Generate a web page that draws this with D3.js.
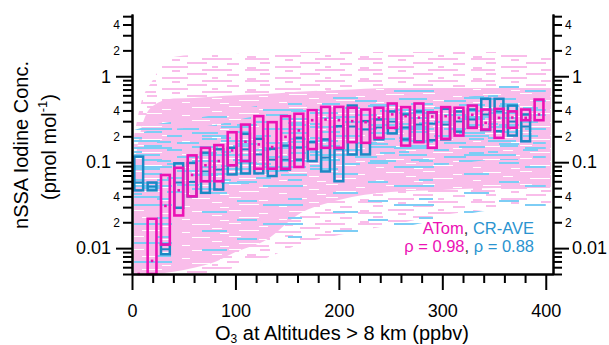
<!DOCTYPE html>
<html>
<head>
<meta charset="utf-8">
<script src="https://cdn.jsdelivr.net/npm/d3@7"></script>
<style>
  body { margin: 0; background: #fff; }
  svg text { font-family: "Liberation Sans", Arial, sans-serif; }
</style>
</head>
<body>
<div class="canvas"></div>
<script>
// O3 bin centres (ppbv), 31 bins over 0-400
const o3Bins = [6.5, 19.4, 32.3, 45.2, 58.1, 71.0, 83.9, 96.8, 109.7, 122.6, 135.5, 148.4, 161.3, 174.2, 187.1,
  200.0, 212.9, 225.8, 238.7, 251.6, 264.5, 277.4, 290.3, 303.2, 316.1, 329.0, 341.9, 354.8, 367.7, 380.6, 393.5]
const binWidth = 12.9

// ATom boxes (pmol/mol)
const atomQ25 = [0.003, 0.004, 0.011, 0.024, 0.040, 0.060, 0.060, 0.092, 0.103, 0.084, 0.084, 0.084, 0.088, 0.142, 0.147, 0.147,
  0.171, 0.168, 0.192, 0.251, 0.156, 0.171, 0.147, 0.187, 0.204, 0.251, 0.24, 0.192, 0.251, 0.308, 0.308]
const atomMed = [0.0035, 0.0071, 0.031, 0.047, 0.071, 0.092, 0.103, 0.137, 0.173, 0.161, 0.15, 0.197, 0.234, 0.308, 0.314, 0.308,
  0.30, 0.292, 0.328, 0.36, 0.343, 0.33, 0.34, 0.343, 0.328, 0.356, 0.287, 0.328, 0.331, 0.328, 0.359]
const atomQ75 = [0.004, 0.022, 0.071, 0.086, 0.120, 0.147, 0.158, 0.223, 0.274, 0.343, 0.292, 0.343, 0.366, 0.403, 0.44, 0.44,
  0.43, 0.41, 0.43, 0.482, 0.437, 0.482, 0.381, 0.437, 0.43, 0.456, 0.41, 0.418, 0.39, 0.41, 0.536]

// CR-AVE boxes
const crQ25 = [0.047, 0.047, 0.0085, 0.0295, 0.040, 0.044, 0.048, 0.072, 0.074, 0.074, 0.069, 0.082, 0.107, 0.103, 0.078, 0.060,
  0.123, 0.123, 0.184, 0.216, 0.184, 0.174, 0.18, 0.184, 0.227, 0.253, 0.236, 0.229, 0.204, 0.175, null]
const crMed = [0.058, 0.052, 0.0097, 0.058, 0.059, 0.078, 0.082, 0.092, 0.141, 0.123, 0.107, 0.107, 0.148, 0.141, 0.113, 0.141,
  0.26, 0.24, 0.253, 0.297, 0.253, 0.274, 0.28, 0.274, 0.297, 0.314, 0.359, 0.389, 0.297, 0.26, null]
const crQ75 = [0.116, 0.058, 0.011, 0.097, 0.098, 0.129, 0.141, 0.147, 0.214, 0.187, 0.143, 0.156, 0.192, 0.171, 0.184, 0.262,
  0.456, 0.30, 0.314, 0.389, 0.359, 0.389, 0.378, 0.418, 0.389, 0.41, 0.546, 0.546, 0.456, 0.359, null]

// envelope of the raw ATom points (background cloud)
const atomCloudX = [2, 8, 20, 40, 60, 80, 100, 130, 160, 200, 250, 300, 350, 405]
const atomDenseLo = [0.005, 0.005, 0.005, 0.0053, 0.0059, 0.0069, 0.009, 0.0125, 0.0243, 0.0363, 0.045, 0.0475, 0.050, 0.050]
const atomDenseHi = [0.09, 0.22, 0.45, 0.55, 0.56, 0.58, 0.60, 0.62, 0.66, 0.69, 0.73, 0.73, 0.73, 0.73]
const atomSparseLo = [0.005, 0.005, 0.005, 0.005, 0.005, 0.0053, 0.0059, 0.0077, 0.0109, 0.0142, 0.0186, 0.0243, 0.0285, 0.033]
const atomSparseHi = [0.2, 0.45, 0.9, 1.67, 1.77, 1.77, 1.82, 1.87, 1.91, 1.91, 1.91, 1.91, 1.91, 1.77]

// envelope of the raw CR-AVE points
const crCloudX = [2, 20, 50, 80, 110, 150, 200, 250, 300, 350, 400]
const crDenseLo = [0.0363, 0.0363, 0.0415, 0.0475, 0.0543, 0.0621, 0.0811, 0.0928, 0.0928, 0.106, 0.106]
const crDenseHi = [0.207, 0.237, 0.25, 0.271, 0.327, 0.405, 0.529, 0.558, 0.558, 0.605, 0.605]
const crSparseLo = [0.0053, 0.0053, 0.0064, 0.0083, 0.0109, 0.0125, 0.0142, 0.0165, 0.022, 0.028, 0.03]
const crSparseHi = [0.237, 0.271, 0.31, 0.354, 0.426, 0.529, 0.656, 0.69, 0.8, 0.9, 0.9]

const xMajor = [0, 100, 200, 300, 400]
const yMajor = [0.01, 0.1, 1]

const colors = { atom: '#ec12b4', atomLight: '#f9bdea', cr: '#1b88c4', crLight: '#7dcdf5' }

const margin = { top: 14, right: 56, bottom: 71, left: 132 }
const width = 609 - margin.left - margin.right
const height = 345 - margin.top - margin.bottom

const svg = d3.select('.canvas')
  .append('svg')
  .attr('width', 609)
  .attr('height', 345)

const defs = svg.append('defs')

// dashed textures standing in for the thousands of raw points
const addPattern = (id, w, h, bg, fg, rects) => {
  const p = defs.append('pattern')
    .attr('id', id)
    .attr('patternUnits', 'userSpaceOnUse')
    .attr('width', w).attr('height', h)
  if (bg) p.append('rect').attr('width', w).attr('height', h).attr('fill', bg)
  rects.forEach(r => p.append('rect')
    .attr('x', r[0]).attr('y', r[1]).attr('width', r[2]).attr('height', r[3]).attr('fill', fg))
}
addPattern('atomDense', 97, 13, colors.atomLight, '#fff',
  [[0, 1, 12, 1], [60, 2, 18, 1], [30, 4, 9, 1], [80, 6, 10, 1], [10, 8, 20, 1], [50, 10, 8, 1], [88, 11, 9, 1]])
addPattern('atomSparse', 113, 11, null, colors.atomLight,
  [[0, 0, 24, 2], [40, 1, 8, 2], [70, 0, 30, 2], [15, 4, 10, 2], [55, 4, 20, 2], [95, 5, 12, 2],
   [30, 8, 26, 2], [80, 8, 6, 2], [2, 9, 9, 2]])
addPattern('crDense', 89, 14, null, colors.crLight,
  [[0, 0, 28, 2], [45, 2, 22, 2], [12, 5, 18, 2], [60, 6, 26, 2], [35, 9, 15, 2], [0, 11, 10, 2], [70, 12, 15, 2]])
addPattern('crSparse', 131, 19, null, colors.crLight,
  [[0, 0, 40, 2], [70, 7, 25, 2], [25, 13, 14, 2], [105, 15, 20, 2]])

defs.append('clipPath').attr('id', 'plotClip')
  .append('rect').attr('width', width).attr('height', height)

const graph = svg.append('g')
  .attr('transform', `translate(${margin.left}, ${margin.top})`)

const x = d3.scaleLinear().domain([0, 407]).range([0, width])
const y = d3.scaleLog().domain([0.005, 5.3]).range([height, 0]).clamp(true)

const area = d3.area()
  .x(d => x(d.x))
  .y0(d => y(d.lo))
  .y1(d => y(d.hi))
  .curve(d3.curveMonotoneX)

const cloud = (xs, lo, hi) => xs.map((v, i) => ({ x: v, lo: lo[i], hi: hi[i] }))

const clouds = graph.append('g').attr('clip-path', 'url(#plotClip)')
clouds.append('path').attr('d', area(cloud(atomCloudX, atomSparseLo, atomSparseHi))).attr('fill', 'url(#atomSparse)')
clouds.append('path').attr('d', area(cloud(atomCloudX, atomDenseLo, atomDenseHi))).attr('fill', 'url(#atomDense)')
clouds.append('path').attr('d', area(cloud(crCloudX, crSparseLo, crSparseHi))).attr('fill', 'url(#crSparse)')
clouds.append('path').attr('d', area(cloud(crCloudX, crDenseLo, crDenseHi))).attr('fill', 'url(#crDense)')

// box plots
const boxes = (q25, med, q75) => o3Bins.map((c, i) => ({ c, q25: q25[i], med: med[i], q75: q75[i] }))
  .filter(d => d.q25 != null)
const boxW = binWidth * 0.66

const crG = graph.append('g')
const crBoxes = crG.selectAll('g').data(boxes(crQ25, crMed, crQ75)).enter().append('g')
crBoxes.append('rect')
  .attr('x', d => x(d.c - boxW / 2))
  .attr('width', d => x(boxW) - x(0))
  .attr('y', d => y(d.q75))
  .attr('height', d => y(d.q25) - y(d.q75))
  .attr('fill', 'none')
  .attr('stroke', colors.cr)
  .attr('stroke-width', 2.5)
crBoxes.append('line')
  .attr('x1', d => x(d.c - boxW / 2)).attr('x2', d => x(d.c + boxW / 2))
  .attr('y1', d => y(d.med)).attr('y2', d => y(d.med))
  .attr('stroke', colors.cr)
  .attr('stroke-width', 2)

const atomG = graph.append('g')
const atomBoxes = atomG.selectAll('g').data(boxes(atomQ25, atomMed, atomQ75)).enter().append('g')
atomBoxes.append('rect')
  .attr('x', d => x(d.c - boxW / 2))
  .attr('width', d => x(boxW) - x(0))
  .attr('y', d => y(d.q75))
  .attr('height', d => y(d.q25) - y(d.q75))
  .attr('fill', 'none')
  .attr('stroke', colors.atom)
  .attr('stroke-width', 2.6)
atomBoxes.append('rect')
  .attr('x', d => x(d.c) - 1.3)
  .attr('y', d => y(d.med) - 1.3)
  .attr('width', 2.6).attr('height', 2.6)
  .attr('fill', colors.atom)

// axes
const yMinor = y.ticks().filter(v => !yMajor.some(m => Math.abs(v - m) < 1e-9))
const minorLabel = v => {
  const lead = Math.round(v / Math.pow(10, Math.floor(Math.log10(v) + 1e-9)))
  return (lead === 2 || lead === 4) ? String(lead) : ''
}
const xMinor = d3.range(20, 401, 20).filter(v => v % 100 !== 0)

const styleAxis = (g, size) => {
  g.selectAll('path, line').attr('stroke', '#000').attr('stroke-width', 2)
  g.selectAll('text').attr('fill', '#000').style('font-size', size + 'px')
}

graph.append('g')
  .call(d3.axisLeft(y).tickValues(yMinor).tickSize(9).tickSizeOuter(0).tickPadding(3).tickFormat(minorLabel))
  .call(g => styleAxis(g, 12))
graph.append('g')
  .call(d3.axisLeft(y).tickValues(yMajor).tickSize(16).tickSizeOuter(0).tickPadding(5).tickFormat(d3.format('~g')))
  .call(g => styleAxis(g, 18))

graph.append('g')
  .attr('transform', `translate(${width}, 0)`)
  .call(d3.axisRight(y).tickValues(yMinor).tickSize(9).tickSizeOuter(0).tickPadding(3).tickFormat(minorLabel))
  .call(g => styleAxis(g, 12))
graph.append('g')
  .attr('transform', `translate(${width}, 0)`)
  .call(d3.axisRight(y).tickValues(yMajor).tickSize(16).tickSizeOuter(0).tickPadding(3).tickFormat(d3.format('~g')))
  .call(g => styleAxis(g, 18))

graph.append('g')
  .attr('transform', `translate(0, ${height})`)
  .call(d3.axisBottom(x).tickValues(xMinor).tickSize(9).tickSizeOuter(0).tickFormat(''))
  .call(g => styleAxis(g, 18))
graph.append('g')
  .attr('transform', `translate(0, ${height})`)
  .call(d3.axisBottom(x).tickValues(xMajor).tickSize(16).tickSizeOuter(0).tickPadding(14))
  .call(g => styleAxis(g, 18))

// axis titles
const xTitle = svg.append('text')
  .attr('x', 342).attr('y', 340)
  .attr('text-anchor', 'middle')
  .style('font-size', '20px')
xTitle.append('tspan').text('O')
xTitle.append('tspan').attr('dy', 3).style('font-size', '12px').text('3')
xTitle.append('tspan').attr('dy', -3).text(' at Altitudes > 8 km (ppbv)')

const yTitle = svg.append('g').attr('transform', 'rotate(-90)')
yTitle.append('text')
  .attr('x', -145).attr('y', 28)
  .attr('text-anchor', 'middle')
  .style('font-size', '20px')
  .text('nSSA Iodine Conc.')
const yTitle2 = yTitle.append('text')
  .attr('x', -147).attr('y', 56)
  .attr('text-anchor', 'middle')
  .style('font-size', '20px')
yTitle2.append('tspan').text('(pmol mol')
yTitle2.append('tspan').attr('dy', -9).style('font-size', '13px').text('-1')
yTitle2.append('tspan').attr('dy', 9).text(')')

// legend
const legend = svg.append('g').style('font-size', '16.5px')
const line1 = legend.append('text').attr('x', 534).attr('y', 233.5).attr('text-anchor', 'end')
line1.append('tspan').attr('fill', colors.atom).text('ATom')
line1.append('tspan').attr('fill', '#333').text(', ')
line1.append('tspan').attr('fill', '#2a93cf').text('CR-AVE')
const line2 = legend.append('text').attr('x', 534).attr('y', 251.5).attr('text-anchor', 'end')
line2.append('tspan').attr('fill', colors.atom).text('ρ = 0.98')
line2.append('tspan').attr('fill', '#333').text(', ')
line2.append('tspan').attr('fill', '#2a93cf').text('ρ = 0.88')
</script>
</body>
</html>
